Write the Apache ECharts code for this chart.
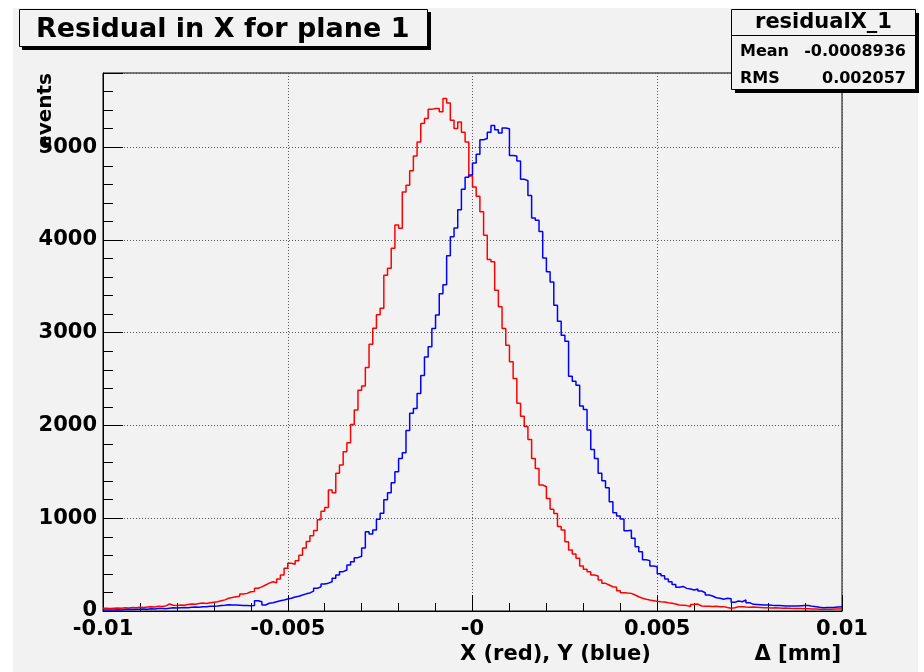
<!DOCTYPE html>
<html>
<head>
<meta charset="utf-8">
<script src="https://cdn.jsdelivr.net/npm/echarts@6/dist/echarts.min.js"></script>
<style>
html,body{margin:0;padding:0;background:#ffffff;}
#c{width:924px;height:672px;}
</style>
</head>
<body>
<div id="c"></div>
<script>
// ---- data ----
const binLo = -0.01;
const binWidth = 0.0001;   // 200 bins from -0.01 to 0.01

const redX = [
  30, 28, 30, 32, 30, 35, 33, 38, 36, 40,
  38, 42, 45, 43, 50, 48, 55, 75, 62, 58,
  65, 62, 70, 75, 72, 80, 85, 82, 90, 95,
  100, 110, 120, 137, 145, 154, 160, 183, 190, 208,
  210, 245, 260, 280, 300, 316, 305, 345, 388, 460,
  514, 505, 542, 600, 680, 750, 812, 868, 985, 1075,
  1117, 1304, 1275, 1484, 1573, 1717, 1814, 2010, 2166, 2380,
  2425, 2625, 2876, 3048, 3195, 3264, 3620, 3696, 3910, 4160,
  4127, 4517, 4590, 4745, 4905, 5056, 5256, 5310, 5408, 5417,
  5417, 5381, 5524, 5477, 5291, 5201, 5273, 5160, 5057, 4690,
  4572, 4472, 4303, 4052, 3790, 3764, 3459, 3280, 3046, 2866,
  2686, 2507, 2240, 2100, 1990, 1850, 1645, 1537, 1358, 1340,
  1214, 1096, 1052, 912, 873, 747, 657, 614, 568, 485,
  449, 424, 388, 377, 334, 298, 280, 262, 255, 219,
  197, 193, 190, 172, 154, 137, 126, 118, 111, 104,
  100, 98, 90, 83, 75, 65, 62, 58, 48, 70,
  75, 54, 50, 52, 48, 50, 45, 47, 38, 30,
  35, 45, 47, 42, 40, 42, 40, 38, 36, 35,
  33, 34, 32, 30, 31, 29, 28, 27, 26, 25,
  24, 22, 22, 20, 18, 19, 20, 21, 22, 23
];

const blueY = [
  12, 10, 12, 14, 12, 15, 18, 16, 20, 18,
  22, 20, 24, 22, 26, 28, 25, 30, 35, 32,
  36, 38, 35, 40, 42, 40, 47, 45, 50, 52,
  54, 58, 62, 68, 66, 64, 62, 60, 58, 56,
  60, 111, 100, 65, 83, 90, 100, 110, 118, 130,
  137, 150, 160, 172, 185, 195, 215, 244, 262, 290,
  300, 316, 352, 388, 424, 442, 496, 531, 575, 590,
  680, 855, 830, 873, 988, 1055, 1200, 1275, 1383, 1501,
  1645, 1706, 1945, 2133, 2184, 2346, 2540, 2738, 2850, 3046,
  3190, 3420, 3516, 3830, 4034, 4130, 4327, 4546, 4675, 4700,
  4831, 4925, 5080, 5094, 5160, 5233, 5187, 5154, 5208, 5200,
  4910, 4905, 4850, 4655, 4640, 4480, 4238, 4213, 4090, 3805,
  3656, 3548, 3295, 3125, 2974, 2909, 2532, 2478, 2435, 2209,
  2173, 1950, 1742, 1645, 1484, 1404, 1329, 1178, 1059, 1024,
  992, 864, 870, 785, 693, 639, 553, 543, 485, 478,
  402, 380, 345, 316, 287, 255, 265, 244, 237, 226,
  237, 215, 197, 172, 162, 143, 137, 126, 137, 133,
  93, 108, 100, 118, 90, 72, 70, 68, 66, 65,
  62, 60, 58, 56, 54, 54, 55, 54, 56, 58,
  60, 50, 45, 40, 36, 37, 38, 40, 44, 47
];

const xTickValues = [-0.01, -0.005, 0, 0.005, 0.01];
const xTickLabels = ['-0.01', '-0.005', '-0', '0.005', '0.01'];
const yTickValues = [0, 1000, 2000, 3000, 4000, 5000];
const yTickLabels = ['0', '1000', '2000', '3000', '4000', '5000'];

const titleText = 'Residual in X for plane 1';
const statsName = 'residualX_1';
const statsRows = [['Mean', '-0.0008936'], ['RMS', '0.002057']];
const xTitleLeft = 'X (red), Y (blue)';
const xTitleRight = '\u0394 [mm]';
const yTitle = 'events';

// ---- helpers ----
function toSteps(vals) {
  const pts = vals.map((v, i) => [binLo + i * binWidth, v]);
  pts.push([binLo + vals.length * binWidth, vals[vals.length - 1]]);
  return pts;
}
function lookup(values, labels, v, tol) {
  for (let i = 0; i < values.length; i++) {
    if (Math.abs(values[i] - v) < tol) return labels[i];
  }
  return '';
}

const FONT = '"DejaVu Sans", "Liberation Sans", sans-serif';
const BG = '#f2f2f2';

const chart = echarts.init(document.getElementById('c'), null, {renderer: 'canvas'});

const G = {left: 103, top: 73, right: 842, bottom: 611};

const option = {
  backgroundColor: '#ffffff',
  animation: false,
  grid: {
    left: G.left, top: G.top, right: 924 - G.right, bottom: 672 - G.bottom,
    show: true, borderColor: '#000', borderWidth: 1, backgroundColor: 'transparent',
    containLabel: false, outerBoundsMode: 'none'
  },
  xAxis: [
    {
      type: 'value', min: -0.01, max: 0.01, interval: 0.005,
      axisLine: {show: true, onZero: false, lineStyle: {color: '#000', width: 1}},
      axisTick: {show: true, inside: true, length: 16, lineStyle: {color: '#000', width: 1}},
      splitLine: {show: true, lineStyle: {color: '#555', type: [1, 2], width: 1}},
      axisLabel: {
        show: true, margin: 8, color: '#000', fontFamily: FONT, fontWeight: 'bold', fontSize: 21,
        showMinLabel: true, showMaxLabel: true, hideOverlap: false,
        formatter: v => lookup(xTickValues, xTickLabels, v, 1e-7)
      }
    },
    {
      type: 'value', min: -0.01, max: 0.01, interval: 0.001, position: 'bottom',
      axisLine: {show: false, onZero: false},
      axisTick: {show: true, inside: true, length: 8, lineStyle: {color: '#000', width: 1}},
      splitLine: {show: false},
      axisLabel: {show: false}
    }
  ],
  yAxis: [
    {
      type: 'value', min: 0, max: 5800, interval: 1000,
      axisLine: {show: true, onZero: false, lineStyle: {color: '#000', width: 1}},
      axisTick: {show: true, inside: true, length: 20, lineStyle: {color: '#000', width: 1}},
      splitLine: {show: true, lineStyle: {color: '#555', type: [1, 2], width: 1}},
      axisLabel: {
        show: true, margin: 6, color: '#000', fontFamily: FONT, fontWeight: 'bold', fontSize: 21,
        showMinLabel: true, showMaxLabel: true, hideOverlap: false,
        formatter: v => lookup(yTickValues, yTickLabels, v, 0.5)
      }
    },
    {
      type: 'value', min: 0, max: 5800, interval: 200, position: 'left',
      axisLine: {show: false, onZero: false},
      axisTick: {show: true, inside: true, length: 10, lineStyle: {color: '#000', width: 1}},
      splitLine: {show: false},
      axisLabel: {show: false}
    }
  ],
  series: [
    {
      name: 'X', type: 'line', step: 'end', xAxisIndex: 0, yAxisIndex: 0,
      data: toSteps(redX), symbol: 'none', showSymbol: false, clip: true,
      lineStyle: {color: '#ff0000', width: 1.5}, z: 3
    },
    {
      name: 'Y', type: 'line', step: 'end', xAxisIndex: 0, yAxisIndex: 0,
      data: toSteps(blueY), symbol: 'none', showSymbol: false, clip: true,
      lineStyle: {color: '#0000ff', width: 1.5}, z: 4
    }
  ],
  graphic: [
    // pad background
    {type: 'rect', z: -10, silent: true, shape: {x: 13, y: 8, width: 905, height: 664}, style: {fill: BG}},
    // title box with shadow
    {type: 'rect', z: 10, shape: {x: 22, y: 12, width: 409, height: 38}, style: {fill: '#000'}},
    {type: 'rect', z: 11, shape: {x: 19.5, y: 9.5, width: 408, height: 37}, style: {fill: BG, stroke: '#000', lineWidth: 1}},
    {type: 'text', z: 12, style: {text: titleText, x: 36, y: 29.5, font: 'bold 27px ' + FONT, fill: '#000',
      textAlign: 'left', textVerticalAlign: 'middle', align: 'left', verticalAlign: 'middle'}},
    // stats box with shadow
    {type: 'rect', z: 10, shape: {x: 735, y: 13, width: 184, height: 80}, style: {fill: '#000'}},
    {type: 'rect', z: 11, shape: {x: 731.5, y: 9.5, width: 184, height: 80}, style: {fill: BG, stroke: '#000', lineWidth: 1}},
    {type: 'line', z: 12, shape: {x1: 731.5, y1: 35.5, x2: 915.5, y2: 35.5}, style: {stroke: '#000', lineWidth: 1}},
    {type: 'text', z: 12, style: {text: statsName, x: 823.5, y: 22.5, font: 'bold 21px ' + FONT, fill: '#000',
      textAlign: 'center', textVerticalAlign: 'middle', align: 'center', verticalAlign: 'middle'}},
    {type: 'text', z: 12, style: {text: statsRows[0][0], x: 740, y: 51.5, font: 'bold 16px ' + FONT, fill: '#000',
      textAlign: 'left', textVerticalAlign: 'middle', align: 'left', verticalAlign: 'middle'}},
    {type: 'text', z: 12, style: {text: statsRows[0][1], x: 906, y: 51.5, font: 'bold 16px ' + FONT, fill: '#000',
      textAlign: 'right', textVerticalAlign: 'middle', align: 'right', verticalAlign: 'middle'}},
    {type: 'text', z: 12, style: {text: statsRows[1][0], x: 740, y: 79, font: 'bold 16px ' + FONT, fill: '#000',
      textAlign: 'left', textVerticalAlign: 'middle', align: 'left', verticalAlign: 'middle'}},
    {type: 'text', z: 12, style: {text: statsRows[1][1], x: 906, y: 79, font: 'bold 16px ' + FONT, fill: '#000',
      textAlign: 'right', textVerticalAlign: 'middle', align: 'right', verticalAlign: 'middle'}},
    // axis titles
    {type: 'text', z: 12, style: {text: xTitleLeft, x: 460, y: 655, font: 'bold 21px ' + FONT, fill: '#000',
      textAlign: 'left', textVerticalAlign: 'middle', align: 'left', verticalAlign: 'middle'}},
    {type: 'text', z: 12, style: {text: xTitleRight, x: 841, y: 655, font: 'bold 21px ' + FONT, fill: '#000',
      textAlign: 'right', textVerticalAlign: 'middle', align: 'right', verticalAlign: 'middle'}},
    {type: 'text', z: 12, x: 46, y: 73, rotation: Math.PI / 2,
      style: {text: yTitle, x: 0, y: 0, font: 'bold 20px ' + FONT, fill: '#000',
      textAlign: 'right', textVerticalAlign: 'middle', align: 'right', verticalAlign: 'middle'}}
  ]
};
chart.setOption(option);
</script>
</body>
</html>
